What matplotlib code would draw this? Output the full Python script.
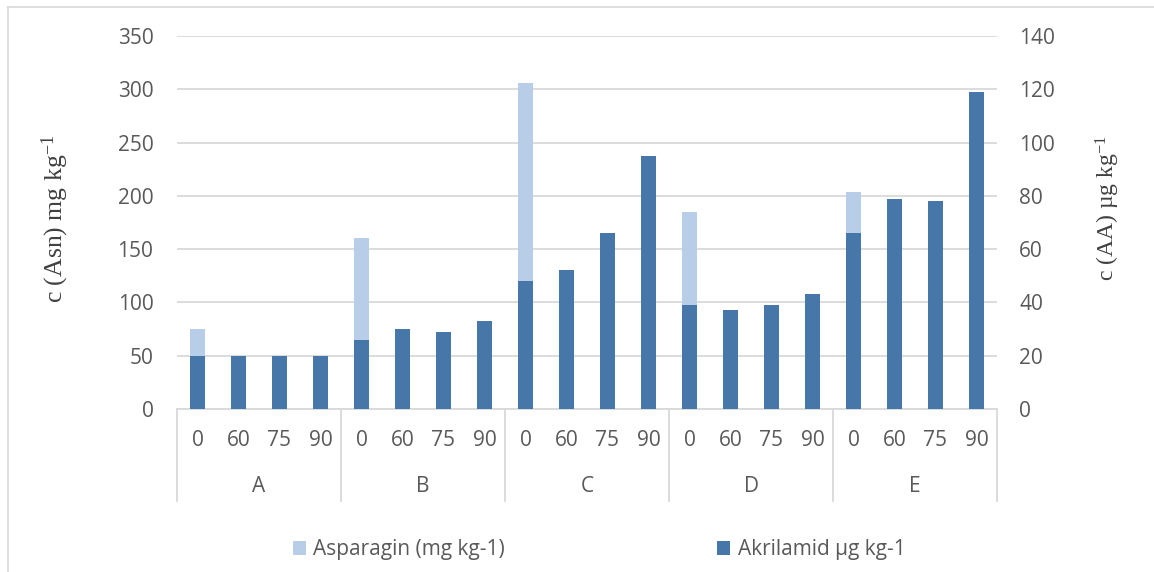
import matplotlib
matplotlib.use("Agg")
import matplotlib.pyplot as plt
from matplotlib.patches import Patch
from matplotlib.lines import Line2D
import numpy as np

# fonts
plt.rcParams['font.family'] = ['Open Sans', 'DejaVu Sans']
plt.rcParams['mathtext.fontset'] = 'custom'
plt.rcParams['mathtext.rm'] = 'Liberation Serif'
plt.rcParams['mathtext.it'] = 'Liberation Serif:italic'

# === data ===
groups = ['A', 'B', 'C', 'D', 'E']
temps = ['0', '60', '75', '90']
# asparagin (left axis) - only the 0 samples are visible
asparagin = [75, 0, 0, 0,
             160, 0, 0, 0,
             306, 0, 0, 0,
             185, 0, 0, 0,
             204, 0, 0, 0]
# acrylamide (right axis)
akrilamid = [20, 20, 20, 20,
             26, 30, 29, 33,
             48, 52, 66, 95,
             39, 37, 39, 43,
             66, 79, 78, 119]

light = '#B7CDE8'
dark = '#4677A8'
grid_c = '#D9D9D9'
txt_c = '#595959'

W, H = 1154, 572
fig = plt.figure(figsize=(W / 100, H / 100), dpi=100)
ax = fig.add_axes([177 / W, 1 - 409 / H, 820 / W, 373 / H])
ax2 = ax.twinx()

x = np.arange(len(akrilamid))
bw = 0.39
ax.bar(x, asparagin, width=bw, color=light, zorder=2)
ax2.bar(x, akrilamid, width=bw, color=dark, zorder=2)

ax.set_xlim(-0.5, len(x) - 0.5)
ax.set_ylim(0, 350)
ax2.set_ylim(0, 140)
ax.set_yticks(np.arange(0, 351, 50))
ax2.set_yticks(np.arange(0, 141, 20))
ax.yaxis.grid(True, color=grid_c, linewidth=1.3, zorder=0)
ax.set_axisbelow(True)

for a in (ax, ax2):
    for s in a.spines.values():
        s.set_visible(False)
    a.tick_params(axis='y', length=0, labelsize=15, labelcolor=txt_c)
ax.tick_params(axis='y', pad=17)
ax2.tick_params(axis='y', pad=16)

# category labels
ax.set_xticks(x)
ax.set_xticklabels(temps * len(groups))
ax.tick_params(axis='x', length=0, labelsize=15, labelcolor=txt_c, pad=15)

ax.axhline(0, color=grid_c, linewidth=1.3, clip_on=False, zorder=3)
y_end = -(501 - 409) / 373
for k in range(len(groups) + 1):
    ax.axvline(k * 4 - 0.5, ymin=y_end, ymax=0, color=grid_c, linewidth=1.3, clip_on=False)
for k, g in enumerate(groups):
    ax.text(k * 4 + 1.5, -(487 - 409) / 373, g, transform=ax.get_xaxis_transform(),
            ha='center', va='center', fontsize=15, color=txt_c)

ax.set_ylabel(r'c (Asn) mg kg$^{-1}$', family='Liberation Serif', fontsize=18.5,
              color='#404040', labelpad=0)
ax.yaxis.set_label_coords((71 - 177) / 820, (409 - 219) / 373)
ax2.set_ylabel(r'c (AA) µg kg$^{-1}$', family='Liberation Serif', fontsize=17,
               color='#404040', rotation=90)
ax2.yaxis.set_label_coords((1094 - 177) / 820, (409 - 208) / 373)

# legend
handles = [Patch(facecolor=light, label='Asparagin (mg kg-1)'),
           Patch(facecolor=dark, label='Akrilamid µg kg-1')]
fig.legend(handles=handles, loc='center left', bbox_to_anchor=(293 / W, 1 - 550 / H),
           ncol=2, frameon=False, fontsize=15, labelcolor=txt_c,
           handlelength=0.62, handleheight=0.62, handletextpad=0.35,
           columnspacing=10.2, borderpad=0, borderaxespad=0)

# outer border
fig.add_artist(Line2D([8 / W, 8 / W], [0, 1 - 7 / H], color=grid_c, linewidth=1.2))
fig.add_artist(Line2D([8 / W, 1], [1 - 7 / H, 1 - 7 / H], color=grid_c, linewidth=1.2))

fig.savefig('out.png', dpi=100)
